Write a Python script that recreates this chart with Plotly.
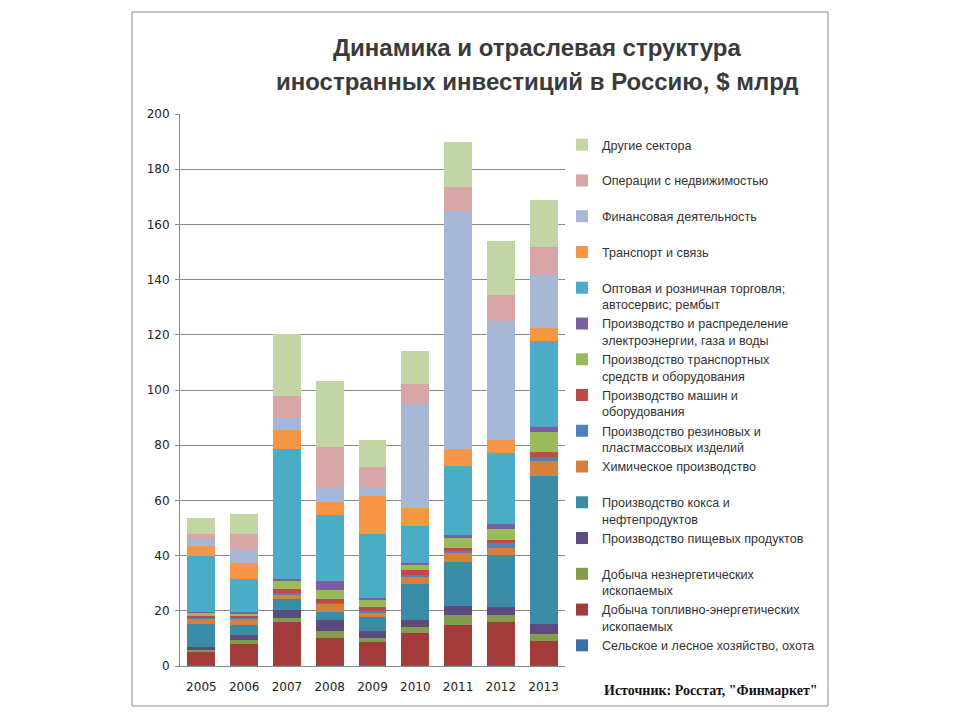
import plotly.graph_objects as go

years = ["2005", "2006", "2007", "2008", "2009", "2010", "2011", "2012", "2013"]

agri = [0.3, 0.3, 0.5, 0.4, 0.3, 0.4, 0.5, 0.4, 0.4]
fuel = [4.7, 7.5, 15.4, 9.8, 8.4, 11.4, 14.2, 15.5, 8.7]
nonfuel = [0.8, 1.5, 1.4, 2.5, 1.4, 2.2, 3.8, 2.4, 2.6]
food = [1.2, 1.9, 3.1, 3.8, 2.5, 2.6, 3.1, 3.0, 3.4]
coke = [8.3, 3.7, 3.8, 3.2, 5.0, 13.2, 16.2, 18.8, 53.6]
chem = [1.9, 2.2, 1.8, 2.8, 1.8, 2.6, 3.2, 2.8, 5.4]
rubber = [0.3, 0.3, 0.4, 0.4, 0.4, 0.5, 0.7, 1.5, 1.8]
machines = [0.7, 0.6, 1.4, 1.4, 1.6, 1.9, 1.2, 1.2, 1.6]
vehicles = [1.1, 1.2, 3.1, 3.4, 2.6, 1.8, 3.5, 4.2, 7.4]
electro = [0.2, 0.2, 0.7, 3.2, 0.5, 0.8, 1.2, 1.8, 1.8]
trade = [20.2, 12.2, 47.1, 23.7, 23.4, 13.2, 25.0, 25.4, 31.2]
transport = [3.8, 5.8, 6.7, 5.0, 13.8, 6.6, 5.9, 4.9, 4.5]
finance = [2.4, 4.8, 4.4, 4.8, 2.7, 37.7, 86.5, 43.1, 19.4]
realty = [1.8, 5.8, 8.2, 15.1, 7.6, 7.2, 8.6, 9.5, 9.9]
other = [5.8, 6.9, 22.2, 23.6, 9.8, 12.2, 16.3, 19.5, 17.3]

series = [
    ("Сельское и лесное хозяйство, охота<br> ", agri, "#3D6FA8"),
    ("Добыча топливно-энергетических<br>ископаемых", fuel, "#A23B39"),
    ("Добыча незнергетических<br>ископаемых", nonfuel, "#839E4B"),
    ("Производство пищевых продуктов<br> ", food, "#5F4A7E"),
    ("Производство кокса и<br>нефтепродуктов", coke, "#3B8CA6"),
    ("Химическое производство<br> ", chem, "#D6803E"),
    ("Производство резиновых и<br>пластмассовых изделий", rubber, "#4F81BD"),
    ("Производство машин и<br>оборудования", machines, "#BA4B48"),
    ("Производство транспортных<br>средств и оборудования", vehicles, "#9BBB59"),
    ("Производство и распределение<br>электроэнергии, газа и воды", electro, "#7B5FA0"),
    ("Оптовая и розничная торговля;<br>автосервис; рембыт", trade, "#4BACC6"),
    ("Транспорт и связь<br> ", transport, "#F79646"),
    ("Финансовая деятельность<br> ", finance, "#A6B8D6"),
    ("Операции с недвижимостью<br> ", realty, "#D8A6A7"),
    ("Другие сектора<br> ", other, "#C3D5A4"),
]

fig = go.Figure()
for name, vals, color in series:
    fig.add_trace(go.Bar(x=years, y=vals, name=name, marker=dict(color=color, line=dict(width=0))))

# page offset (body margin) is 8px; figure is 944x704
W, H, OFF = 944, 704, 8
plot_l, plot_r, plot_t, plot_b = 180, 565, 114, 666  # page coords
plot_w, plot_h = plot_r - plot_l, plot_b - plot_t

def px(x):
    return (x - plot_l) / plot_w

def py(y):
    return (plot_b - y) / plot_h

fig.update_layout(
    width=W, height=H,
    barmode="stack", bargap=0.35,
    paper_bgcolor="white", plot_bgcolor="white",
    margin=dict(l=plot_l - OFF, r=W - (plot_r - OFF), t=plot_t - OFF, b=H - (plot_b - OFF), pad=0),
    font=dict(family="Liberation Sans", size=12, color="#333333"),
    showlegend=True,
    legend=dict(
        traceorder="reversed", x=px(562), y=py(130), xanchor="left", yanchor="top",
        valign="top", font=dict(family="Liberation Sans", size=12.6, color="#333333"),
        itemwidth=30, bgcolor="rgba(0,0,0,0)",
    ),
    annotations=[
        dict(text="<b>Динамика и отраслевая структура</b>", x=px(537), y=py(47), xref="paper", yref="paper",
             xanchor="center", yanchor="middle", showarrow=False,
             font=dict(family="Liberation Sans", size=24, color="#3A3A3A")),
        dict(text="<b>иностранных инвестиций в Россию, $ млрд</b>", x=px(537), y=py(81), xref="paper", yref="paper",
             xanchor="center", yanchor="middle", showarrow=False,
             font=dict(family="Liberation Sans", size=24, color="#3A3A3A")),
        dict(text="<b>Источник: Росстат, \"Финмаркет\"</b>", x=px(820), y=py(690), xref="paper", yref="paper",
             xanchor="right", yanchor="middle", showarrow=False,
             font=dict(family="Liberation Serif", size=14, color="#111111")),
    ],
)

fig.add_shape(type="rect", xref="paper", yref="paper",
              x0=px(132), x1=px(828), y0=py(706), y1=py(12),
              line=dict(color="#8C8C8C", width=1), fillcolor="rgba(0,0,0,0)", layer="below")

fig.update_yaxes(range=[0, 200], dtick=20, showgrid=True, gridcolor="#8A8A8A", gridwidth=1,
                 showline=True, linecolor="#8A8A8A", linewidth=1, ticks="outside", ticklen=4,
                 tickcolor="#8A8A8A", zeroline=False, ticklabelstandoff=3,
                 tickfont=dict(family="DejaVu Sans", size=12, color="#222222"))
fig.update_xaxes(showline=True, linecolor="#8A8A8A", linewidth=1, ticks="",
                 ticklabelstandoff=10,
                 tickfont=dict(family="DejaVu Sans", size=12, color="#222222"))

fig.write_html("out.html")
